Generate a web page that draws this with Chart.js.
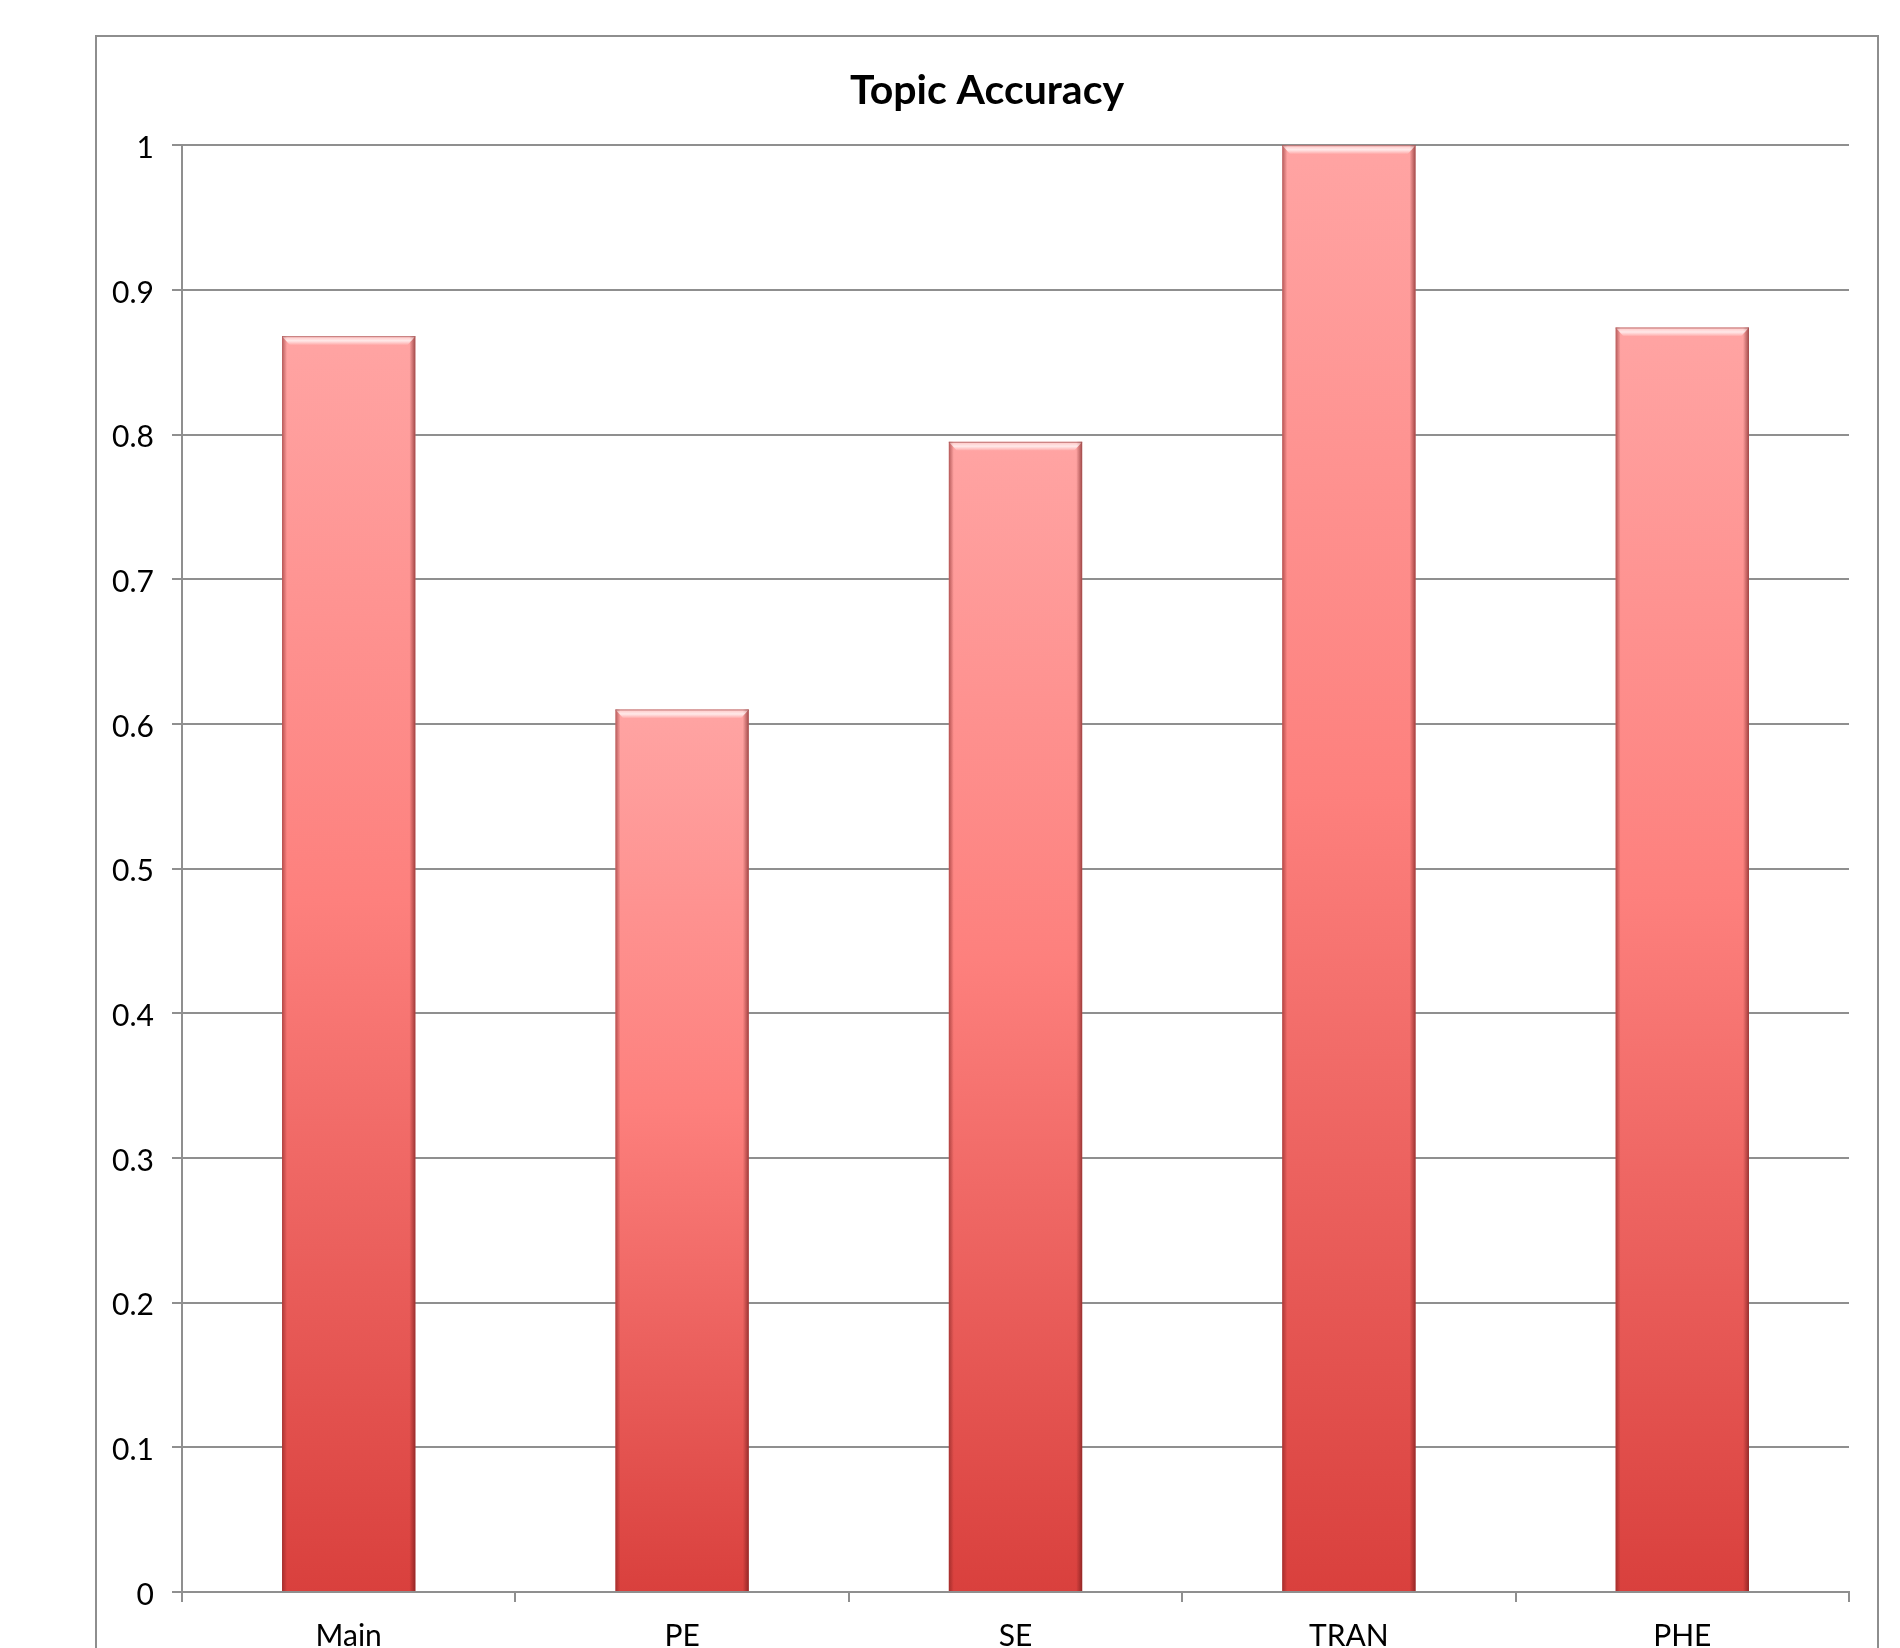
<!DOCTYPE html>
<html>
<head>
<meta charset="utf-8">
<script src="https://cdn.jsdelivr.net/npm/chart.js@4"></script>
<style>
  html, body { margin: 0; padding: 0; background: #fff; overflow: hidden; }
  #frame { position: absolute; left: 95px; top: 35px; width: 1784px; height: 1720px;
           border: 2px solid #8e8e8e; box-sizing: border-box; background: #fff; }
  #chart { display: block; }
</style>
</head>
<body>
<div id="frame"><canvas id="chart" width="1780" height="1716"></canvas></div>
<script>
// chart data
const categories = ['Main', 'PE', 'SE', 'TRAN', 'PHE'];
const accuracy = [0.868, 0.610, 0.795, 1.0, 0.874];
const yTickLabels = ['0', '0.1', '0.2', '0.3', '0.4', '0.5', '0.6', '0.7', '0.8', '0.9', '1'];

const gridColor = '#8f8f8f';
const font = 'Lato, "Open Sans", sans-serif';

function barGradient(ctx) {
  const chart = ctx.chart;
  if (!chart.chartArea || ctx.type !== 'data') return '#f47f7c';
  const y = chart.scales.y;
  const top = y.getPixelForValue(ctx.raw);
  const base = y.getPixelForValue(0);
  const g = chart.ctx.createLinearGradient(0, top, 0, base);
  g.addColorStop(0, '#ffa4a3');
  g.addColorStop(0.45, '#fd807d');
  g.addColorStop(1, '#d9403d');
  return g;
}

// light bevel on the top edge and shaded sides, like the office-style bars
const bevel = {
  id: 'bevel',
  afterDatasetsDraw(chart) {
    const c = chart.ctx;
    chart.getDatasetMeta(0).data.forEach(bar => {
      const { x, y, width, base } = bar.getProps(['x', 'y', 'width', 'base'], true);
      const l = x - width / 2, r = x + width / 2;
      c.save();
      // side shading
      let g = c.createLinearGradient(l, 0, l + 5, 0);
      g.addColorStop(0, 'rgba(120,30,30,0.55)');
      g.addColorStop(1, 'rgba(120,30,30,0)');
      c.fillStyle = g;
      c.fillRect(l, y, 5, base - y);
      g = c.createLinearGradient(r, 0, r - 6, 0);
      g.addColorStop(0, 'rgba(110,25,25,0.65)');
      g.addColorStop(1, 'rgba(110,25,25,0)');
      c.fillStyle = g;
      c.fillRect(r - 6, y, 6, base - y);
      // top highlight
      g = c.createLinearGradient(0, y, 0, y + 9);
      g.addColorStop(0, 'rgba(255,255,255,0.3)');
      g.addColorStop(0.5, 'rgba(255,245,245,0.85)');
      g.addColorStop(1, 'rgba(255,255,255,0)');
      c.fillStyle = g;
      c.beginPath();
      c.moveTo(l, y);
      c.lineTo(r, y);
      c.lineTo(r - 8, y + 9);
      c.lineTo(l + 8, y + 9);
      c.closePath();
      c.fill();
      c.strokeStyle = 'rgba(150,60,60,0.6)';
      c.lineWidth = 1;
      c.beginPath();
      c.moveTo(l, y + 0.5);
      c.lineTo(r, y + 0.5);
      c.stroke();
      c.restore();
    });
  }
};

new Chart(document.getElementById('chart'), {
  type: 'bar',
  data: {
    labels: categories,
    datasets: [{
      data: accuracy,
      backgroundColor: barGradient,
      borderWidth: 0,
      barPercentage: 0.4,
      categoryPercentage: 1
    }]
  },
  options: {
    responsive: false,
    animation: false,
    layout: { padding: 0 },
    plugins: {
      legend: { display: false },
      tooltip: { enabled: false },
      title: {
        display: true,
        text: 'Topic Accuracy',
        color: '#000',
        font: { family: font, size: 41, weight: 'bold', lineHeight: 1.2 },
        padding: { top: 29, bottom: 30 }
      }
    },
    scales: {
      x: {
        grid: { offset: true, drawOnChartArea: false, tickLength: 10, color: gridColor, lineWidth: 2 },
        border: { color: gridColor, width: 2 },
        ticks: { color: '#000', padding: 16, font: { family: font, size: 30 } },
        afterFit: axis => { axis.height = 161; }
      },
      y: {
        min: 0,
        max: 1,
        grid: { tickLength: 10, color: gridColor, lineWidth: 2 },
        border: { color: gridColor, width: 2 },
        ticks: {
          stepSize: 0.1,
          color: '#000',
          padding: 18,
          labelOffset: 3,
          font: { family: font, size: 30 },
          callback: (v, i) => yTickLabels[i]
        },
        afterFit: axis => { axis.width = 85; }
      },
      // empty right-hand margin so the plot ends where the reference does
      yRight: {
        position: 'right',
        grid: { display: false },
        border: { display: false },
        ticks: { display: false },
        afterFit: axis => { axis.width = 28; }
      }
    }
  },
  plugins: [bevel]
});
</script>
</body>
</html>
